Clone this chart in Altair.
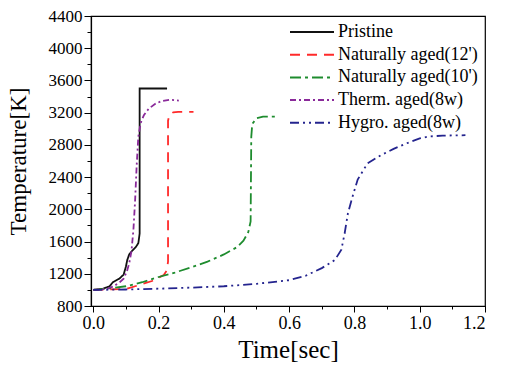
import altair as alt
import pandas as pd

series_names = ["Pristine", "Naturally aged(12')", "Naturally aged(10')",
                "Therm. aged(8w)", "Hygro. aged(8w)"]
series_colors = ["#111111", "#ff2a2a", "#1e8c2e", "#8a2a9a", "#24248e"]
series_dash = [[1, 0], [10, 7], [11, 4, 3, 4], [6, 3, 2, 3], [9, 4, 2, 4, 2, 4]]

pristine_t = [0, 0.03, 0.05, 0.06, 0.08, 0.093, 0.1, 0.104, 0.11, 0.12, 0.13, 0.138, 0.142, 0.142, 0.226]
pristine_T = [1000, 1015, 1045, 1095, 1140, 1190, 1290, 1370, 1440, 1490, 1530, 1580, 1700, 3500, 3500]

nat12_t = [0, 0.05, 0.1, 0.14, 0.18, 0.216, 0.225, 0.229, 0.229, 0.233, 0.245, 0.26, 0.307]
nat12_T = [1000, 1005, 1010, 1060, 1110, 1185, 1240, 1350, 3100, 3170, 3205, 3210, 3210]

nat10_t = [0, 0.05, 0.1, 0.15, 0.2, 0.25, 0.3, 0.35, 0.4, 0.44, 0.46, 0.475, 0.482, 0.484, 0.487, 0.5, 0.52, 0.565]
nat10_T = [1000, 1020, 1045, 1095, 1160, 1215, 1280, 1350, 1440, 1530, 1610, 1720, 1850, 2900, 3060, 3130, 3150, 3150]

therm_t = [0, 0.04, 0.06, 0.08, 0.093, 0.103, 0.11, 0.117, 0.123, 0.128, 0.133, 0.138, 0.145, 0.155, 0.17, 0.19, 0.21, 0.235, 0.262]
therm_T = [1000, 1010, 1040, 1090, 1140, 1230, 1330, 1480, 1750, 2100, 2550, 2900, 3070, 3170, 3250, 3310, 3345, 3360, 3350]

hygro_t = [0, 0.1, 0.2, 0.3, 0.4, 0.5, 0.6, 0.65, 0.7, 0.74, 0.76, 0.77, 0.78, 0.795, 0.81, 0.84, 0.88, 0.92, 0.96, 1.0, 1.03, 1.07, 1.14]
hygro_T = [1000, 1005, 1015, 1028, 1045, 1075, 1120, 1175, 1270, 1370, 1500, 1700, 1950, 2170, 2370, 2570, 2670, 2750, 2820, 2880, 2905, 2915, 2920]

x_ticks = [round(0.1 * i, 1) for i in range(13)]
y_ticks = list(range(800, 4401, 200))

rows = []
for name, ts, Ts in zip(series_names,
                        [pristine_t, nat12_t, nat10_t, therm_t, hygro_t],
                        [pristine_T, nat12_T, nat10_T, therm_T, hygro_T]):
    for i, (t, T) in enumerate(zip(ts, Ts)):
        rows.append({"series": name, "t": t, "T": T, "i": i})
df = pd.DataFrame(rows)

FONT = "Liberation Serif"

legend = alt.Legend(title=None, orient="none", legendX=198, legendY=5,
                    symbolType="stroke", symbolSize=1936, symbolStrokeWidth=2,
                    clipHeight=22, rowPadding=0.7, labelOffset=3,
                    labelFont=FONT, labelFontSize=18, labelColor="black",
                    labelLimit=300, padding=0, symbolOffset=0)

chart = alt.Chart(df).mark_line(strokeWidth=1.8).encode(
    x=alt.X("t:Q", scale=alt.Scale(domain=[-0.007, 1.2], nice=False, zero=False),
            axis=alt.Axis(values=x_ticks, title="Time[sec]",
                          labelExpr="abs(round(datum.value*10)) % 2 == 0 ? format(datum.value, '.1f') : ''",
                          tickSize=alt.condition("abs(round(datum.value*10)) % 2 == 0", alt.value(6), alt.value(3)),
                          labelPadding=2, titleX=197, titleY=51, titleBaseline="alphabetic",
                          titleFontSize=25, labelFontSize=18, labelFont=FONT)),
    y=alt.Y("T:Q", scale=alt.Scale(domain=[800, 4400], nice=False, zero=False),
            axis=alt.Axis(values=y_ticks, title="Temperature[K]", format="d",
                          labelExpr="datum.value % 400 == 0 ? datum.label : ''",
                          tickSize=alt.condition("datum.value % 400 == 0", alt.value(7), alt.value(4)),
                          labelPadding=2, titleX=-73, titleY=145, titleAngle=270,
                          titleBaseline="middle", titleAlign="center",
                          titleFontSize=23, labelFontSize=17, labelFont=FONT)),
    color=alt.Color("series:N", scale=alt.Scale(domain=series_names, range=series_colors),
                    legend=legend),
    strokeDash=alt.StrokeDash("series:N", scale=alt.Scale(domain=series_names, range=series_dash),
                              legend=legend),
    order="i:Q",
).properties(
    width=394, height=290,
    autosize=alt.AutoSizeParams(type="none"),
    padding={"left": 91, "top": 16, "right": 20, "bottom": 59},
).configure(
    background="white"
).configure_view(
    stroke="black", strokeWidth=1.2
).configure_axis(
    grid=False, domainColor="black", tickColor="black", labelColor="black",
    titleColor="black", labelFont=FONT, titleFont=FONT, titleFontWeight="normal",
    tickWidth=1, domainWidth=1.2
)

chart.save("out.html", embed_options={"renderer": "svg", "actions": False})
